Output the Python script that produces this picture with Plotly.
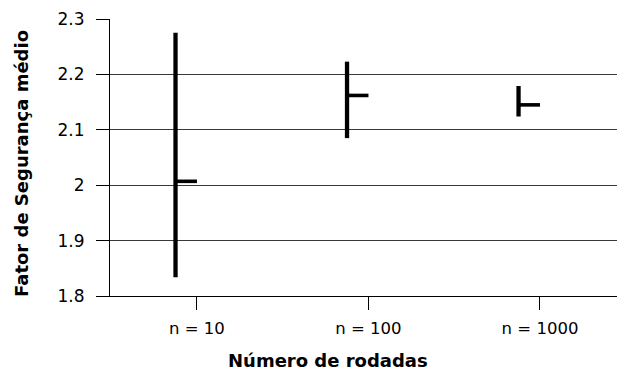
import plotly.graph_objects as go

categories = ["n = 10", "n = 100", "n = 1000"]
high = [2.275, 2.223, 2.179]
low = [1.834, 2.085, 2.124]
close = [2.007, 2.162, 2.145]

OFFSET = 0.125  # horizontal shift of the high-low line left of the category

pos = list(range(len(categories)))

vx, vy, cx, cy = [], [], [], []
for i, p in enumerate(pos):
    vx += [p - OFFSET, p - OFFSET, None]
    vy += [low[i], high[i], None]
    cx += [p - OFFSET, p, None]
    cy += [close[i], close[i], None]

fig = go.Figure()
fig.add_trace(go.Scatter(x=vx, y=vy, mode="lines",
                         line=dict(color="black", width=4.3), hoverinfo="skip"))
fig.add_trace(go.Scatter(x=cx, y=cy, mode="lines",
                         line=dict(color="black", width=3.6), hoverinfo="skip"))

font_family = "DejaVu Sans, Arial, sans-serif"

fig.update_layout(
    width=617, height=374,
    margin=dict(l=110, r=0, t=19, b=78),
    paper_bgcolor="white", plot_bgcolor="white",
    showlegend=False,
    font=dict(family=font_family, color="black"),
    xaxis=dict(
        range=[-0.507, 2.449],
        tickmode="array", tickvals=pos, ticktext=categories,
        ticks="outside", ticklen=13, tickwidth=1, tickcolor="black",
        showline=True, linecolor="black", linewidth=1,
        showgrid=False, zeroline=False,
        tickfont=dict(size=16.5, family=font_family, color="black"),
        ticklabelstandoff=4,
    ),
    yaxis=dict(
        range=[1.8, 2.3],
        tickmode="array",
        tickvals=[1.8, 1.9, 2.0, 2.1, 2.2, 2.3],
        ticktext=["1.8", "1.9", "2", "2.1", "2.2", "2.3"],
        ticks="outside", ticklen=13, tickwidth=1, tickcolor="black",
        showline=True, linecolor="black", linewidth=1,
        showgrid=True, gridcolor="#3a3a3a", gridwidth=1,
        zeroline=False,
        tickfont=dict(size=17, family=font_family, color="black"),
        ticklabelstandoff=8,
    ),
    annotations=[
        dict(text="<b>Número de rodadas</b>", xref="paper", yref="paper",
             x=(328 - 110) / 507, y=-(360 - 296) / 277,
             xanchor="center", yanchor="middle", showarrow=False,
             font=dict(size=18, family=font_family, color="black")),
        dict(text="<b>Fator de Segurança médio</b>", xref="paper", yref="paper",
             x=-(110 - 21) / 507, y=1 - (164 - 19) / 277,
             xanchor="center", yanchor="middle", showarrow=False, textangle=-90,
             font=dict(size=18, family=font_family, color="black")),
    ],
)

fig.write_html("out.html")
